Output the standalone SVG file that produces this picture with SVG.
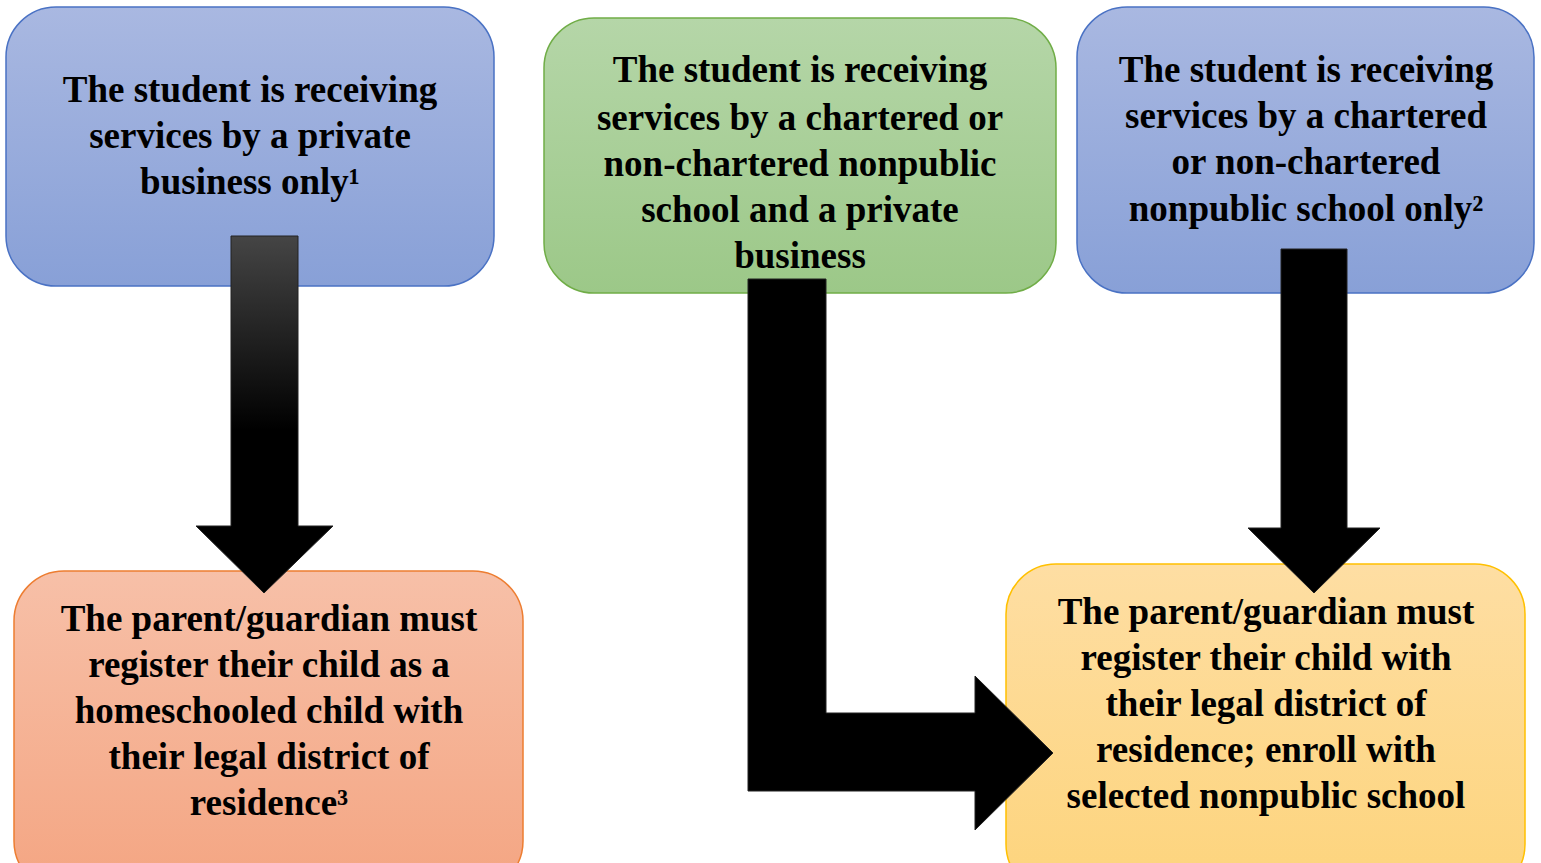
<svg xmlns="http://www.w3.org/2000/svg" width="1541" height="863" viewBox="0 0 1541 863">
<defs>
<linearGradient id="gBlue" x1="0" y1="0" x2="0" y2="1"><stop offset="0" stop-color="#a9b8e1"/><stop offset="1" stop-color="#88a0d7"/></linearGradient>
<linearGradient id="gGreen" x1="0" y1="0" x2="0" y2="1"><stop offset="0" stop-color="#b5d6a8"/><stop offset="1" stop-color="#9cc888"/></linearGradient>
<linearGradient id="gOrange" x1="0" y1="0" x2="0" y2="1"><stop offset="0" stop-color="#f7c0a8"/><stop offset="1" stop-color="#f4a582"/></linearGradient>
<linearGradient id="gYellow" x1="0" y1="0" x2="0" y2="1"><stop offset="0" stop-color="#fedea3"/><stop offset="1" stop-color="#fdd47c"/></linearGradient>
<linearGradient id="gArrow" gradientUnits="userSpaceOnUse" x1="0" y1="236" x2="0" y2="430"><stop offset="0" stop-color="#454545"/><stop offset="1" stop-color="#000"/></linearGradient>
</defs>
<style>
text{font-family:"Liberation Serif","Times New Roman",serif;font-weight:bold;font-size:37px;fill:#000;text-anchor:middle}
.b{stroke-width:1.5}
.arrow{fill:#000;stroke:#222;stroke-width:1}
</style>
<rect width="1541" height="863" fill="#fff"/>
<g id="n1">
<rect class="b" x="6" y="7" width="488" height="279" rx="50" fill="url(#gBlue)" stroke="#4a72c4"/>
<text x="250" y="102">The student is receiving</text>
<text x="250" y="148">services by a private</text>
<text x="250" y="194">business only¹</text>
</g>
<g id="n2">
<rect class="b" x="544" y="18" width="512" height="275" rx="50" fill="url(#gGreen)" stroke="#70ad47"/>
<text x="800" y="82">The student is receiving</text>
<text x="800" y="130">services by a chartered or</text>
<text x="800" y="176">non-chartered nonpublic</text>
<text x="800" y="222">school and a private</text>
<text x="800" y="268">business</text>
</g>
<g id="n3">
<rect class="b" x="1077" y="7" width="457" height="286" rx="50" fill="url(#gBlue)" stroke="#4a72c4"/>
<text x="1306" y="82">The student is receiving</text>
<text x="1306" y="128">services by a chartered</text>
<text x="1306" y="174">or non-chartered</text>
<text x="1306" y="221">nonpublic school only²</text>
</g>
<g id="n4">
<rect class="b" x="14" y="571" width="509" height="320" rx="50" fill="url(#gOrange)" stroke="#ed7d31"/>
<text x="269" y="631">The parent/guardian must</text>
<text x="269" y="677">register their child as a</text>
<text x="269" y="723">homeschooled child with</text>
<text x="269" y="769">their legal district of</text>
<text x="269" y="815">residence³</text>
</g>
<g id="n5">
<rect class="b" x="1006" y="564" width="519" height="330" rx="50" fill="url(#gYellow)" stroke="#ffc000"/>
<text x="1266" y="624">The parent/guardian must</text>
<text x="1266" y="670">register their child with</text>
<text x="1266" y="716">their legal district of</text>
<text x="1266" y="762">residence; enroll with</text>
<text x="1266" y="808">selected nonpublic school</text>
</g>
<g id="connectors">
<path class="arrow" d="M231 236 H298 V526 H333 L264 593 L196 526 H231 Z" fill="url(#gArrow)" style="fill:url(#gArrow)"/>
<path class="arrow" d="M748 279 H826 V713 H975 V676 L1053 753 L975 830 V791 H748 Z"/>
<path class="arrow" d="M1281 249 H1347 V528 H1380 L1314 593 L1248 528 H1281 Z"/>
</g>
</svg>
